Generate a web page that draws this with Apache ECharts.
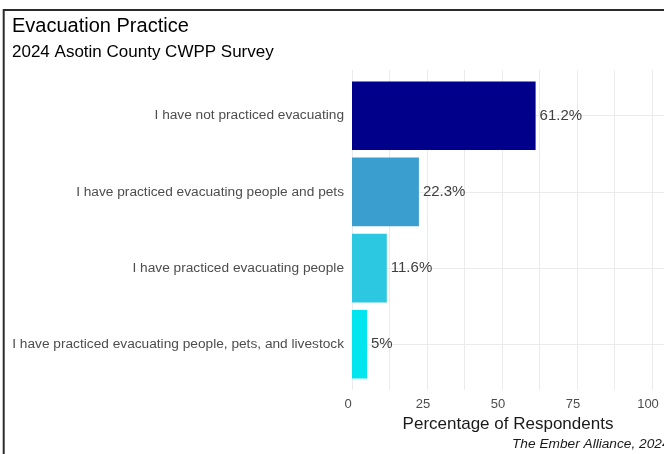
<!DOCTYPE html>
<html>
<head>
<meta charset="utf-8">
<script src="https://cdn.jsdelivr.net/npm/echarts@6/dist/echarts.min.js"></script>
<style>
  html, body { margin: 0; padding: 0; background: #fff; }
  #chart { width: 664px; height: 454px; }
</style>
</head>
<body>
<div id="chart"></div>
<script>
// Survey responses, top to bottom
const categories = [
  'I have not practiced evacuating',
  'I have practiced evacuating people and pets',
  'I have practiced evacuating people',
  'I have practiced evacuating people, pets, and livestock'
];
const percentages = [61.2, 22.3, 11.6, 5];
const barColors = ['#00008B', '#3A9ECF', '#2CC8E2', '#00E5EE'];
const xTickValues = [0, 25, 50, 75, 100];

const FONT = '"Liberation Sans", Arial, Helvetica, sans-serif';
const chart = echarts.init(document.getElementById('chart'), null, { renderer: 'canvas' });

// Panel geometry: 4 bands with 0.6-band padding above and below
const panelTop = 70, panelHeight = 320, panelLeft = 352, panelWidth = 312;
const band = panelHeight / (categories.length + 0.2);

chart.setOption({
  backgroundColor: '#ffffff',
  animation: false,
  textStyle: { fontFamily: FONT },
  grid: [
    // background panel: grid lines and x axis
    { left: panelLeft, top: panelTop, width: panelWidth, height: panelHeight, containLabel: false },
    // bars
    { left: panelLeft, top: panelTop + 0.1 * band, width: panelWidth, height: band * categories.length, containLabel: false }
  ],
  xAxis: [
    {
      gridIndex: 0, type: 'value', min: 0, max: 104, interval: 12.5,
      axisLine: { show: false }, axisTick: { show: false },
      splitLine: { show: true, showMaxLine: false, lineStyle: { color: '#EBEBEB', width: 1 } },
      axisLabel: {
        show: true, showMaxLabel: false, margin: 8, fontSize: 13, color: '#4D4D4D',
        fontFamily: FONT, padding: [0, 8, 0, 0],
        formatter: v => (xTickValues.indexOf(v) >= 0 ? String(v) : '')
      },
      name: 'Percentage of Respondents', nameLocation: 'middle', nameGap: 24,
      nameTextStyle: { fontSize: 17, color: '#1A1A1A', fontFamily: FONT }
    },
    {
      gridIndex: 1, type: 'value', min: 0, max: 104, show: false
    }
  ],
  yAxis: [
    {
      gridIndex: 0, type: 'value', min: -0.6, max: 3.6, inverse: true, splitNumber: 4,
      axisLine: { show: false }, axisTick: { show: false }, axisLabel: { show: false },
      splitLine: { show: true, showMinLine: false, showMaxLine: false, lineStyle: { color: '#EBEBEB', width: 1 } }
    },
    {
      gridIndex: 1, type: 'category', data: categories, inverse: true,
      axisLine: { show: false }, axisTick: { show: false }, splitLine: { show: false },
      axisLabel: { margin: 8, fontSize: 13.7, color: '#4D4D4D', fontFamily: FONT }
    }
  ],
  series: [
    {
      type: 'bar', xAxisIndex: 1, yAxisIndex: 1,
      barCategoryGap: '10%',
      data: percentages.map((v, i) => ({ value: v, itemStyle: { color: barColors[i] } })),
      label: {
        show: true, position: 'right', distance: 4,
        fontSize: 15, color: '#404040', fontFamily: FONT,
        formatter: p => p.value + '%'
      }
    }
  ],
  graphic: [
    {
      type: 'rect', silent: true, z: 100,
      shape: { x: 3.7, y: 10, width: 800, height: 600 },
      style: { fill: 'none', stroke: '#2B2B2B', lineWidth: 2 }
    },
    {
      type: 'text', left: 12, top: 16,
      style: { text: 'Evacuation Practice', font: '20px ' + FONT, fill: '#000000' }
    },
    {
      type: 'text', left: 12, top: 44,
      style: { text: '2024 Asotin County CWPP Survey', font: '17px ' + FONT, fill: '#000000' }
    },
    {
      type: 'text', left: 512, top: 437,
      style: { text: 'The Ember Alliance, 2024', font: 'italic 13.7px ' + FONT, fill: '#1A1A1A' }
    }
  ]
});
</script>
</body>
</html>
